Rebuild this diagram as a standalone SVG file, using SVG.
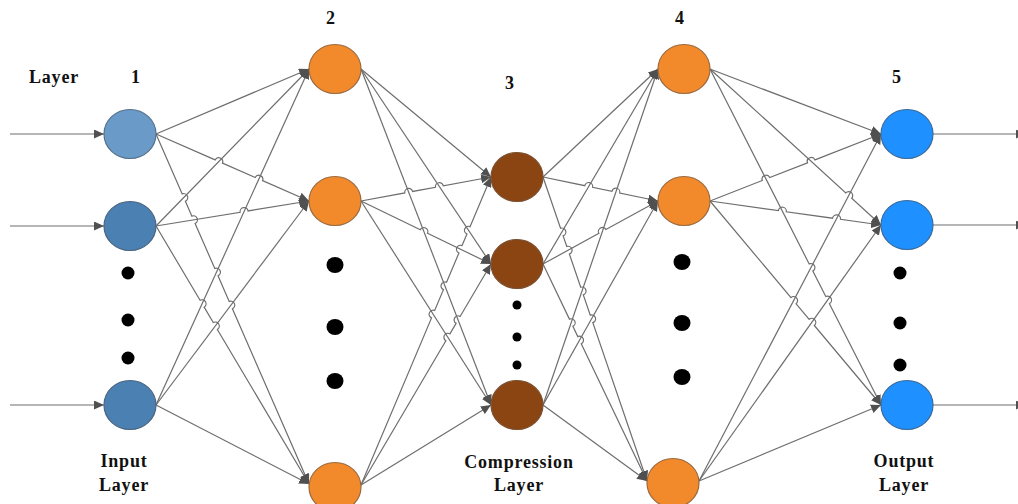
<svg xmlns="http://www.w3.org/2000/svg" width="1018" height="504" viewBox="0 0 1018 504">
<defs>
<marker id="ah" markerUnits="userSpaceOnUse" markerWidth="11" markerHeight="9" refX="10" refY="4.5" orient="auto">
<path d="M0,0 L10,4.5 L0,9 z" fill="#505050"/>
</marker>
</defs>
<style>
.e{stroke:#6e6e6e;stroke-width:1.2;fill:none;marker-end:url(#ah)}
.t{font-family:"Liberation Serif","Times New Roman",serif;font-weight:bold;font-size:18px;fill:#111;text-anchor:middle;letter-spacing:0.8px}
.n{stroke-width:1.2}
.b1{fill:#6A9BC8;stroke:#55708a}
.b2{fill:#4A80B2;stroke:#4a6480}
.o{fill:#F28A2C;stroke:#9a6a40}
.br{fill:#8B4513;stroke:#7a5030}
.c{fill:#1E90FF;stroke:#3a6a9a}
.d{fill:#000}
</style>
<rect width="1018" height="504" fill="#fff"/>
<g id="connectors">
<line class="e" x1="10" y1="134" x2="104" y2="134"/>
<line class="e" x1="10" y1="226" x2="104" y2="226"/>
<line class="e" x1="10" y1="405" x2="104" y2="405"/>
<line class="e" x1="933" y1="134" x2="1026" y2="134"/>
<line class="e" x1="933" y1="225" x2="1026" y2="225"/>
<line class="e" x1="933" y1="405" x2="1026" y2="405"/>

<line class="e" x1="156" y1="134" x2="309" y2="69"/>
<path class="e" d="M156,134 L215.14,159.9 A4,4 0 0 1 222.46,163.1 L255.24,177.46 A4,4 0 0 1 262.56,180.66 L309,201"/>
<path class="e" d="M156,134 L182.2,193.94 A4,4 0 0 1 185.4,201.27 L191.9,216.12 A4,4 0 0 1 195.1,223.45 L214.8,268.5 A4,4 0 0 1 218,275.84 L229.2,301.45 A4,4 0 0 1 232.4,308.78 L309,484"/>
<line class="e" x1="156" y1="226" x2="309" y2="69"/>
<path class="e" d="M156,226 L240.15,212.25 A4,4 0 0 1 248.05,210.95 L309,201"/>
<path class="e" d="M156,226 L200.06,300.3 A4,4 0 0 1 204.14,307.18 L213.26,322.56 A4,4 0 0 1 217.34,329.44 L309,484"/>
<line class="e" x1="156" y1="405" x2="309" y2="69"/>
<line class="e" x1="156" y1="405" x2="309" y2="201"/>
<line class="e" x1="156" y1="405" x2="309" y2="484"/>

<line class="e" x1="361" y1="69" x2="491" y2="177"/>
<line class="e" x1="361" y1="69" x2="491" y2="264"/>
<line class="e" x1="361" y1="69" x2="491" y2="405"/>
<path class="e" d="M361,201 L404.77,192.92 A4,4 0 0 1 412.63,191.46 L435.47,187.26 A4,4 0 0 1 443.33,185.8 L491,177"/>
<path class="e" d="M361,201 L420.3,229.74 A4,4 0 0 1 427.5,233.22 L491,264"/>
<line class="e" x1="361" y1="201" x2="491" y2="405"/>
<path class="e" d="M361,485 L431.54,317.87 A4,4 0 0 1 434.66,310.5 L443.44,289.67 A4,4 0 0 1 446.56,282.3 L458.94,252.95 A4,4 0 0 1 462.06,245.58 L466.94,234 A4,4 0 0 1 470.06,226.63 L491,177"/>
<path class="e" d="M361,485 L445.87,340.72 A4,4 0 0 1 449.93,333.82 L456.07,323.38 A4,4 0 0 1 460.13,316.48 L491,264"/>
<line class="e" x1="361" y1="485" x2="491" y2="405"/>

<line class="e" x1="543" y1="177" x2="658" y2="69"/>
<path class="e" d="M543,177 L584.77,185.71 A4,4 0 0 1 592.6,187.35 L611.91,191.38 A4,4 0 0 1 619.75,193.02 L658,201"/>
<path class="e" d="M543,177 L560.55,228.28 A4,4 0 0 1 563.14,235.85 L566.78,246.49 A4,4 0 0 1 569.37,254.06 L580.72,287.25 A4,4 0 0 1 583.31,294.82 L590.25,315.12 A4,4 0 0 1 592.84,322.69 L647,481"/>
<line class="e" x1="543" y1="264" x2="658" y2="69"/>
<path class="e" d="M543,264 L598.89,233.38 A4,4 0 0 1 605.91,229.54 L658,201"/>
<path class="e" d="M543,264 L569.42,319.13 A4,4 0 0 1 572.88,326.35 L577.79,336.6 A4,4 0 0 1 581.25,343.82 L647,481"/>
<line class="e" x1="543" y1="405" x2="658" y2="69"/>
<line class="e" x1="543" y1="405" x2="658" y2="201"/>
<line class="e" x1="543" y1="405" x2="647" y2="481"/>

<line class="e" x1="710" y1="69" x2="881" y2="134"/>
<path class="e" d="M710,69 L845.77,192.85 A4,4 0 0 1 851.68,198.25 L881,225"/>
<path class="e" d="M710,69 L809.19,263.9 A4,4 0 0 1 812.81,271.03 L825.8,296.54 A4,4 0 0 1 829.42,303.67 L881,405"/>
<path class="e" d="M710,201 L762.29,180.51 A4,4 0 0 1 769.73,177.59 L807.5,162.8 A4,4 0 0 1 814.94,159.88 L881,134"/>
<path class="e" d="M710,201 L778.39,210.6 A4,4 0 0 1 786.31,211.72 L832.58,218.21 A4,4 0 0 1 840.5,219.33 L881,225"/>
<path class="e" d="M710,201 L791,297.63 A4,4 0 0 1 796.14,303.77 L809.19,319.33 A4,4 0 0 1 814.33,325.47 L881,405"/>
<line class="e" x1="699" y1="481" x2="881" y2="134"/>
<line class="e" x1="699" y1="481" x2="881" y2="225"/>
<line class="e" x1="699" y1="481" x2="881" y2="405"/>
</g>
<g id="layer1">
<ellipse id="n1a" class="n b1" cx="130" cy="134" rx="26" ry="24.5"/>
<ellipse id="n1b" class="n b2" cx="130" cy="226" rx="26" ry="24.5"/>
<ellipse id="n1c" class="n b2" cx="130" cy="405" rx="26" ry="24.5"/>
<circle class="d" cx="128" cy="273" r="6.5"/>
<circle class="d" cx="128" cy="320" r="6.5"/>
<circle class="d" cx="128" cy="358" r="6.5"/>
</g>
<g id="layer2">
<ellipse id="n2a" class="n o" cx="335" cy="69" rx="26" ry="24.5"/>
<ellipse id="n2b" class="n o" cx="335" cy="201" rx="26" ry="24.5"/>
<ellipse id="n2c" class="n o" cx="335" cy="487" rx="26" ry="24.5"/>
<ellipse class="d" cx="335" cy="265" rx="8.5" ry="8"/>
<ellipse class="d" cx="335" cy="327" rx="8.5" ry="8"/>
<ellipse class="d" cx="335" cy="381" rx="8.5" ry="8"/>
</g>
<g id="layer3">
<ellipse id="n3a" class="n br" cx="517" cy="177" rx="26" ry="24.5"/>
<ellipse id="n3b" class="n br" cx="517" cy="264" rx="26" ry="24.5"/>
<ellipse id="n3c" class="n br" cx="517" cy="405" rx="26" ry="24.5"/>
<circle class="d" cx="517" cy="305" r="4.5"/>
<circle class="d" cx="517" cy="337" r="4.5"/>
<circle class="d" cx="517" cy="365" r="4.5"/>
</g>
<g id="layer4">
<ellipse id="n4a" class="n o" cx="684" cy="69" rx="26" ry="24.5"/>
<ellipse id="n4b" class="n o" cx="684" cy="201" rx="26" ry="24.5"/>
<ellipse id="n4c" class="n o" cx="673" cy="483" rx="26" ry="24.5"/>
<ellipse class="d" cx="682" cy="262" rx="8.5" ry="8"/>
<ellipse class="d" cx="682" cy="323" rx="8.5" ry="8"/>
<ellipse class="d" cx="682" cy="377" rx="8.5" ry="8"/>
</g>
<g id="layer5">
<ellipse id="n5a" class="n c" cx="907" cy="134" rx="26" ry="24.5"/>
<ellipse id="n5b" class="n c" cx="907" cy="225" rx="26" ry="24.5"/>
<ellipse id="n5c" class="n c" cx="907" cy="405" rx="26" ry="24.5"/>
<circle class="d" cx="900" cy="273" r="6.5"/>
<circle class="d" cx="900" cy="323" r="6.5"/>
<circle class="d" cx="900" cy="365" r="6.5"/>
</g>
<g id="labels">
<text class="t" x="54" y="83">Layer</text>
<text class="t" x="136" y="83">1</text>
<text class="t" x="331" y="24">2</text>
<text class="t" x="510" y="89">3</text>
<text class="t" x="680" y="24">4</text>
<text class="t" x="897" y="83">5</text>
<text class="t" x="124" y="467">Input</text>
<text class="t" x="124" y="491">Layer</text>
<text class="t" x="519" y="468">Compression</text>
<text class="t" x="519" y="491">Layer</text>
<text class="t" x="904" y="467">Output</text>
<text class="t" x="904" y="491">Layer</text>
</g>
</svg>
